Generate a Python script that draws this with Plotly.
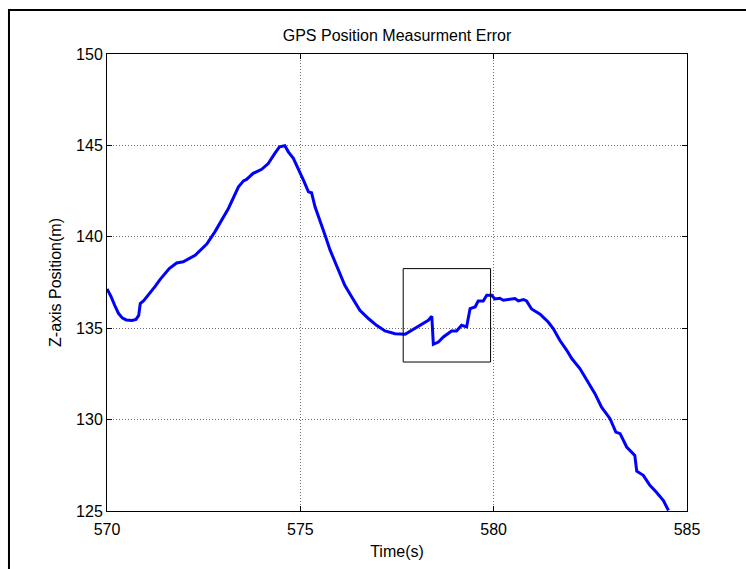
import plotly.graph_objects as go

# Z-axis position samples (time in s, position in m)
time_s = [
    570.00, 570.10, 570.20, 570.30, 570.40, 570.50, 570.65, 570.75, 570.82, 570.86,
    570.95, 571.05, 571.15, 571.25, 571.37, 571.61, 571.80, 571.97, 572.28, 572.58,
    572.79, 572.92, 573.14, 573.40, 573.53, 573.61, 573.78, 574.00, 574.17, 574.34,
    574.46, 574.60, 574.69, 574.82, 574.95, 575.08, 575.21, 575.29, 575.38, 575.51,
    575.64, 575.77, 575.90, 576.03, 576.15, 576.33, 576.54, 576.76, 576.97, 577.19,
    577.45, 577.71, 577.92, 578.14, 578.31, 578.40, 578.44, 578.57, 578.70, 578.91,
    579.04, 579.17, 579.30, 579.39, 579.52, 579.60, 579.73, 579.82, 579.95, 580.03,
    580.16, 580.25, 580.42, 580.55, 580.64, 580.77, 580.85, 580.98, 581.20, 581.41,
    581.54, 581.71, 581.89, 582.02, 582.23, 582.45, 582.62, 582.79, 583.01, 583.16,
    583.27, 583.44, 583.65, 583.70, 583.87, 584.04, 584.21, 584.39, 584.52,
]
z_pos = [
    137.15, 136.75, 136.25, 135.80, 135.55, 135.45, 135.42, 135.48, 135.70, 136.35,
    136.50, 136.75, 137.05, 137.30, 137.66, 138.26, 138.57, 138.63, 138.99, 139.60,
    140.27, 140.76, 141.55, 142.73, 143.06, 143.14, 143.47, 143.69, 144.01, 144.56,
    144.92, 144.98, 144.65, 144.29, 143.74, 143.10, 142.46, 142.41, 141.64, 140.91,
    140.09, 139.27, 138.63, 137.99, 137.35, 136.71, 135.98, 135.53, 135.16, 134.85,
    134.70, 134.67, 134.92, 135.21, 135.43, 135.65, 134.12, 134.24, 134.52, 134.85,
    134.85, 135.16, 135.07, 136.07, 136.16, 136.49, 136.49, 136.80, 136.80, 136.60,
    136.64, 136.53, 136.57, 136.62, 136.49, 136.57, 136.49, 136.05, 135.77, 135.34,
    134.98, 134.34, 133.79, 133.34, 132.79, 132.05, 131.42, 130.68, 130.05, 129.32,
    129.23, 128.50, 128.04, 127.18, 126.95, 126.40, 126.03, 125.57, 125.03,
]

# Highlighted region around the measurement jump
box_t = [577.66, 579.92]
box_z = [133.15, 138.26]

x_ticks = [570, 575, 580, 585]
y_ticks = [125, 130, 135, 140, 145, 150]

font_family = "Liberation Sans, Arial, sans-serif"

fig = go.Figure()
fig.add_trace(go.Scatter(
    x=time_s, y=z_pos, mode="lines",
    line=dict(color="#0000FF", width=3),
    showlegend=False, hoverinfo="skip",
))

fig.add_shape(
    type="rect", xref="x", yref="y",
    x0=box_t[0], x1=box_t[1], y0=box_z[0], y1=box_z[1],
    line=dict(color="black", width=1), fillcolor="rgba(0,0,0,0)",
)

# Outer figure frame
fig.add_shape(
    type="rect", xref="paper", yref="paper",
    x0=-0.169, x1=1.3, y0=-0.3, y1=1.0964,
    line=dict(color="black", width=2), fillcolor="rgba(0,0,0,0)",
    layer="below",
)

axis_common = dict(
    showline=True, linecolor="black", linewidth=1, mirror="ticks",
    ticks="inside", ticklen=5, tickwidth=1, tickcolor="black",
    showgrid=True, gridcolor="#6e6e6e", gridwidth=1, griddash="1px,2px",
    zeroline=False, tickfont=dict(family=font_family, size=16, color="black"),
)

fig.update_xaxes(
    range=[570, 585], tickvals=x_ticks, ticktext=[str(v) for v in x_ticks],
    ticklabelstandoff=4,
    title=dict(text="Time(s)", font=dict(family=font_family, size=16, color="black"),
               standoff=8),
    **axis_common,
)
fig.update_yaxes(
    range=[125, 150], tickvals=y_ticks, ticktext=[str(v) for v in y_ticks],
    title=dict(text="Z-axis Position(m)", font=dict(family=font_family, size=16, color="black"),
               standoff=10),
    **axis_common,
)

fig.update_layout(
    width=746, height=569,
    margin=dict(l=107, r=59, t=54, b=58),
    paper_bgcolor="white", plot_bgcolor="white",
    title=dict(text="GPS Position Measurment Error", x=0.5, xref="paper",
               y=1 - 35 / 569, yref="container", yanchor="middle", xanchor="center",
               font=dict(family=font_family, size=16, color="black")),
)

fig.write_html("out.html")
